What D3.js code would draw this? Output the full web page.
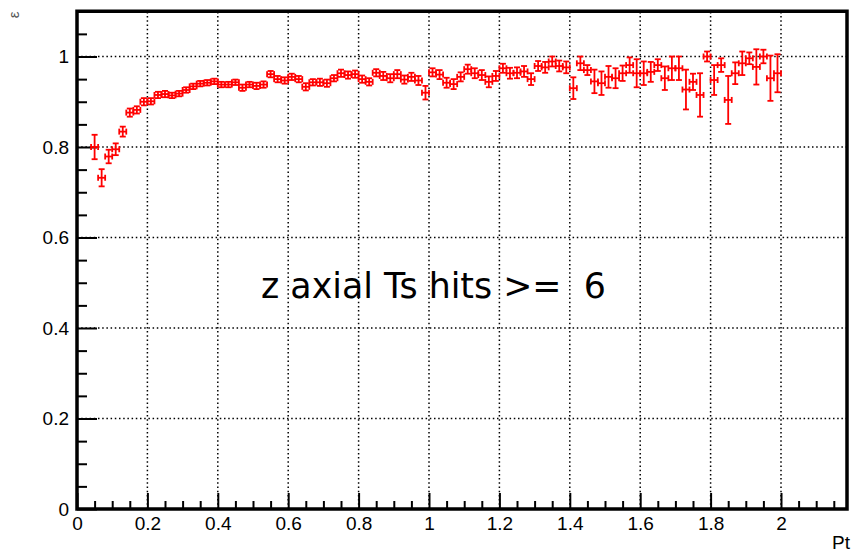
<!DOCTYPE html>
<html><head><meta charset="utf-8">
<script src="https://cdn.jsdelivr.net/npm/d3@7/dist/d3.min.js"></script>
<style>body{margin:0;background:#fff}svg{display:block}</style>
</head><body><svg id="c" width="852" height="553"></svg>
<script>
const ptBins = [0.05,0.07,0.09,0.11,0.13,0.15,0.17,0.19,0.21,0.23,0.25,0.27,0.29,0.31,0.33,0.35,0.37,0.39,
  0.41,0.43,0.45,0.47,0.49,0.51,0.53,0.55,0.57,0.59,0.61,0.63,0.65,0.67,0.69,0.71,0.73,0.75,0.77,0.79,
  0.81,0.83,0.85,0.87,0.89,0.91,0.93,0.95,0.97,0.99,1.01,1.03,1.05,1.07,1.09,1.11,1.13,1.15,1.17,1.19,
  1.21,1.23,1.25,1.27,1.29,1.31,1.33,1.35,1.37,1.39,1.41,1.43,1.45,1.47,1.49,1.51,1.53,1.55,1.57,1.59,
  1.61,1.63,1.65,1.67,1.69,1.71,1.73,1.75,1.77,1.79,1.81,1.83,1.85,1.87,1.89,1.91,1.93,1.95,1.97,1.99];
const efficiency = [0.800,0.732,0.779,0.795,0.834,0.876,0.882,0.900,0.901,0.915,0.917,0.914,0.918,0.926,0.934,0.940,0.942,0.945,
  0.938,0.938,0.943,0.931,0.938,0.935,0.938,0.961,0.950,0.947,0.955,0.950,0.933,0.943,0.943,0.941,0.952,0.963,0.959,0.961,
  0.950,0.944,0.964,0.957,0.952,0.961,0.949,0.955,0.947,0.920,0.965,0.960,0.942,0.939,0.955,0.972,0.963,0.959,0.944,0.957,
  0.974,0.963,0.964,0.967,0.950,0.979,0.976,0.989,0.979,0.976,0.930,0.985,0.970,0.945,0.941,0.955,0.952,0.963,0.981,0.963,
  0.963,0.966,0.981,0.952,0.974,0.974,0.927,0.944,0.915,1.000,0.948,0.981,0.904,0.963,0.985,0.996,0.977,1.000,0.952,0.963];
const effError = [0.027,0.019,0.015,0.013,0.011,0.009,0.008,0.008,0.007,0.007,0.007,0.006,0.006,0.006,0.006,0.006,0.006,0.006,
  0.006,0.006,0.006,0.007,0.006,0.007,0.007,0.007,0.007,0.007,0.007,0.007,0.008,0.007,0.008,0.008,0.007,0.008,0.008,0.008,
  0.008,0.008,0.008,0.009,0.009,0.009,0.009,0.009,0.010,0.015,0.009,0.010,0.011,0.011,0.010,0.010,0.011,0.011,0.012,0.011,
  0.010,0.012,0.012,0.012,0.013,0.011,0.012,0.011,0.012,0.013,0.024,0.015,0.011,0.026,0.026,0.024,0.022,0.017,0.017,0.031,
  0.026,0.022,0.013,0.026,0.026,0.026,0.044,0.018,0.048,0.011,0.033,0.015,0.053,0.024,0.026,0.013,0.039,0.015,0.050,0.042];
const binHalfWidth = 0.01;
const xMajorTicks = [0,0.2,0.4,0.6,0.8,1,1.2,1.4,1.6,1.8,2];
const xTickLabels = ["0","0.2","0.4","0.6","0.8","1","1.2","1.4","1.6","1.8","2"];
const yMajorTicks = [0,0.2,0.4,0.6,0.8,1];
const yTickLabels = ["0","0.2","0.4","0.6","0.8","1"];
const xTitle = "Pt";
const yTitle = "\u03b5";
const annotation = "z axial Ts hits >=  6";

const svg = d3.select("#c");
const x = d3.scaleLinear().domain([0, 2.1875]).range([77, 847]);
const y = d3.scaleLinear().domain([0, 1.1]).range([509, 11.25]);

// grid
const grid = svg.append("g").attr("stroke","#000").attr("stroke-width",1.5).attr("stroke-dasharray","1.5,2.7");
grid.selectAll(".gx").data(xMajorTicks.filter(t=>t>0)).join("line")
  .attr("x1",d=>x(d)).attr("x2",d=>x(d)).attr("y1",y(0)).attr("y2",y(1.1));
grid.selectAll(".gy").data(yMajorTicks.filter(t=>t>0)).join("line")
  .attr("y1",d=>y(d)).attr("y2",d=>y(d)).attr("x1",x(0)).attr("x2",x.range()[1]);

// axes
const fontTick = "'Liberation Sans', Arial, sans-serif";
const xMinor = d3.range(0, 2.19, 0.05).filter(v => Math.abs(v/0.2 - Math.round(v/0.2)) > 1e-6);
const yMinor = d3.range(0, 1.1, 0.05).filter(v => Math.abs(v/0.2 - Math.round(v/0.2)) > 1e-6);

const gx = svg.append("g").attr("transform",`translate(0,${y(0)})`)
  .call(d3.axisBottom(x).tickValues(xMajorTicks).tickSize(-16).tickPadding(8)
    .tickFormat((d,i)=>xTickLabels[i]));
const gxm = svg.append("g").attr("transform",`translate(0,${y(0)})`)
  .call(d3.axisBottom(x).tickValues(xMinor).tickSize(-8).tickFormat(""));
const gy = svg.append("g").attr("transform",`translate(${x(0)},0)`)
  .call(d3.axisLeft(y).tickValues(yMajorTicks).tickSize(-20).tickPadding(8)
    .tickFormat((d,i)=>yTickLabels[i]));
const gym = svg.append("g").attr("transform",`translate(${x(0)},0)`)
  .call(d3.axisLeft(y).tickValues(yMinor).tickSize(-10).tickFormat(""));
[gx,gxm,gy,gym].forEach(g=>{
  g.select(".domain").remove();
  g.selectAll(".tick line").attr("stroke","#000").attr("stroke-width",2);
  g.selectAll("text").attr("font-family",fontTick).attr("font-size",19).attr("fill","#000");
});
gx.selectAll("text").attr("dy","0.71em");

// data error bars
const pts = ptBins.map((c,i)=>({c, v: efficiency[i], e: effError[i]}));
const cap = 3;
const eb = svg.append("g").attr("stroke","#ff0000").attr("stroke-width",1.8).attr("fill","none");
const p = eb.selectAll("g").data(pts).join("g");
p.append("line").attr("x1",d=>x(d.c)).attr("x2",d=>x(d.c)).attr("y1",d=>y(d.v-d.e)).attr("y2",d=>y(d.v+d.e));
p.append("line").attr("x1",d=>x(d.c-binHalfWidth)).attr("x2",d=>x(d.c+binHalfWidth)).attr("y1",d=>y(d.v)).attr("y2",d=>y(d.v));
p.append("line").attr("x1",d=>x(d.c)-cap).attr("x2",d=>x(d.c)+cap).attr("y1",d=>y(d.v+d.e)).attr("y2",d=>y(d.v+d.e));
p.append("line").attr("x1",d=>x(d.c)-cap).attr("x2",d=>x(d.c)+cap).attr("y1",d=>y(d.v-d.e)).attr("y2",d=>y(d.v-d.e));
p.append("line").attr("x1",d=>x(d.c-binHalfWidth)).attr("x2",d=>x(d.c-binHalfWidth)).attr("y1",d=>y(d.v)-cap).attr("y2",d=>y(d.v)+cap);
p.append("line").attr("x1",d=>x(d.c+binHalfWidth)).attr("x2",d=>x(d.c+binHalfWidth)).attr("y1",d=>y(d.v)-cap).attr("y2",d=>y(d.v)+cap);

// frame
svg.append("rect").attr("x",x(0)).attr("y",y(1.1)).attr("width",x.range()[1]-x(0)).attr("height",y(0)-y(1.1))
  .attr("fill","none").attr("stroke","#000").attr("stroke-width",3.5);

// titles
svg.append("text").attr("x",850).attr("y",549).attr("text-anchor","end")
  .attr("font-family",fontTick).attr("font-size",19).text(xTitle);
svg.append("text").attr("transform","translate(19,15) rotate(-90)").attr("text-anchor","middle")
  .attr("font-family",fontTick).attr("font-size",15).attr("fill","#555").text(yTitle);
svg.append("text").attr("x",261).attr("y",298).style("white-space","pre")
  .attr("font-family","'DejaVu Sans', sans-serif").attr("font-size",34.8).attr("fill","#000").text(annotation);
</script></body></html>
